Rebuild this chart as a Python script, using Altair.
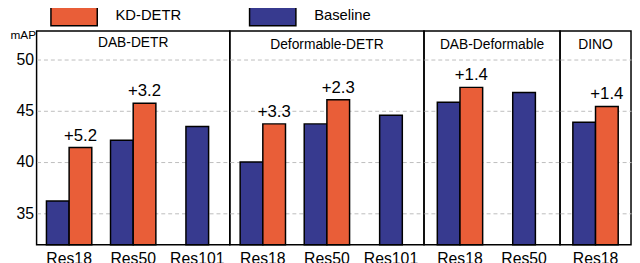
import altair as alt
import pandas as pd

panel_names = ["DAB-DETR", "Deformable-DETR", "DAB-Deformable", "DINO"]
group_panel = ["DAB-DETR"] * 3 + ["Deformable-DETR"] * 3 + ["DAB-Deformable"] * 2 + ["DINO"]
group_backbone = ["Res18", "Res50", "Res101", "Res18", "Res50", "Res101", "Res18", "Res50", "Res18"]
baseline_map = [36.2, 42.1, 43.45, 40.0, 43.7, 44.55, 45.8, 46.75, 43.85]
kd_map = [41.4, 45.7, None, 43.7, 46.05, None, 47.25, None, 45.4]
gain_labels = ["+5.2", "+3.2", None, "+3.3", "+2.3", None, "+1.4", None, "+1.4"]
series_names = ["KD-DETR", "Baseline"]
series_colors = ["#E95E38", "#373A8F"]
y_ticks = [35, 40, 45, 50]
y_domain = [31.93, 52.74]
panel_widths = [196, 197, 138, 72]

FONT = "Liberation Sans"
STEP = 65.0
BAND = 46.0

rows = []
for p, b, base, kd, g in zip(group_panel, group_backbone, baseline_map, kd_map, gain_labels):
    paired = kd is not None
    rows.append({"panel": p, "backbone": b, "series": "Baseline", "value": base,
                 "paired": paired, "gain": ""})
    if paired:
        rows.append({"panel": p, "backbone": b, "series": "KD-DETR", "value": kd,
                     "paired": True, "gain": g})
df = pd.DataFrame(rows)

legend = alt.Legend(
    orient="none", legendX=26.05, legendY=-28.3, direction="horizontal", columns=2,
    title=None, symbolType="M-2.136,-1H2.136V1H-2.136Z", symbolSize=484,
    symbolStrokeColor="black", symbolStrokeWidth=1.5, symbolOpacity=1,
    labelFontSize=15, labelOffset=30, columnPadding=65.5, padding=0,
    labelColor="black", labelFont=FONT,
)


def make_panel(k, name):
    sub = df[df.panel == name]
    order = [b for p, b in zip(group_panel, group_backbone) if p == name]
    n = len(order)
    W = panel_widths[k]
    pin = 1 - BAND / STEP
    pout = (W / STEP - n + pin) / 2
    xscale = alt.Scale(domain=order, paddingInner=pin, paddingOuter=pout)
    yscale = alt.Scale(domain=y_domain, nice=False, zero=False)
    if k == 0:
        yaxis = alt.Axis(values=y_ticks, title="mAP", titleAngle=0, titleAlign="right",
                         titleBaseline="alphabetic", titleX=-1, titleY=8, titleFontSize=12,
                         titleFontWeight="normal", titleFont=FONT, titleColor="black",
                         labelFontSize=16, labelPadding=3, labelColor="black", labelFont=FONT,
                         ticks=False, domain=False, grid=True)
    else:
        yaxis = alt.Axis(values=y_ticks, labels=False, ticks=False, domain=False,
                         title=None, grid=True)
    color = alt.Color("series:N", scale=alt.Scale(domain=series_names, range=series_colors),
                      legend=legend)
    x = alt.X("backbone:N", scale=xscale, sort=order,
              axis=alt.Axis(title=None, labelAngle=0, ticks=False, domain=False,
                            labelFontSize=16, labelPadding=6, labelColor="black",
                            labelFont=FONT, grid=False))
    xoff = alt.XOffset("series:N", scale=alt.Scale(domain=["Baseline", "KD-DETR"],
                                                   paddingInner=0, paddingOuter=0))
    y = alt.Y("value:Q", scale=yscale, axis=yaxis)
    base = alt.Chart(sub)
    paired = base.transform_filter("datum.paired").mark_bar(
        stroke="black", strokeWidth=1.5).encode(
        x=x, xOffset=xoff, y=y, y2=alt.datum(y_domain[0]), color=color)
    layers = [paired]
    if (~sub.paired).any():
        single = base.transform_filter("!datum.paired").mark_bar(
            stroke="black", strokeWidth=1.5, width=alt.RelativeBandSize(0.5)).encode(
            x=x, y=y, y2=alt.datum(y_domain[0]), color=color)
        layers.append(single)
    labels = base.transform_filter("datum.gain != ''").mark_text(
        fontSize=17, dy=-3, baseline="bottom", font=FONT, color="black").encode(
        x=x, xOffset=xoff, y=y, text="gain:N")
    layers.append(labels)
    return alt.layer(*layers).properties(
        width=W, height=217,
        title=alt.TitleParams(text=name, fontSize=14, fontWeight="normal", font=FONT,
                              anchor="middle", frame="group", offset=-32.5,
                              baseline="alphabetic", color="black"),
    )


chart = alt.hconcat(*[make_panel(k, n) for k, n in enumerate(panel_names)],
                    spacing=0, bounds="flush").properties(
    padding={"left": 1, "top": -7.6, "right": 0, "bottom": 0},
).configure(font=FONT).configure_view(
    stroke="black", strokeWidth=1.5
).configure_axis(
    gridColor="#bdbdbd", gridDash=[4, 3], gridWidth=1
)

chart.save("out.html", embed_options={"renderer": "svg", "actions": False})
